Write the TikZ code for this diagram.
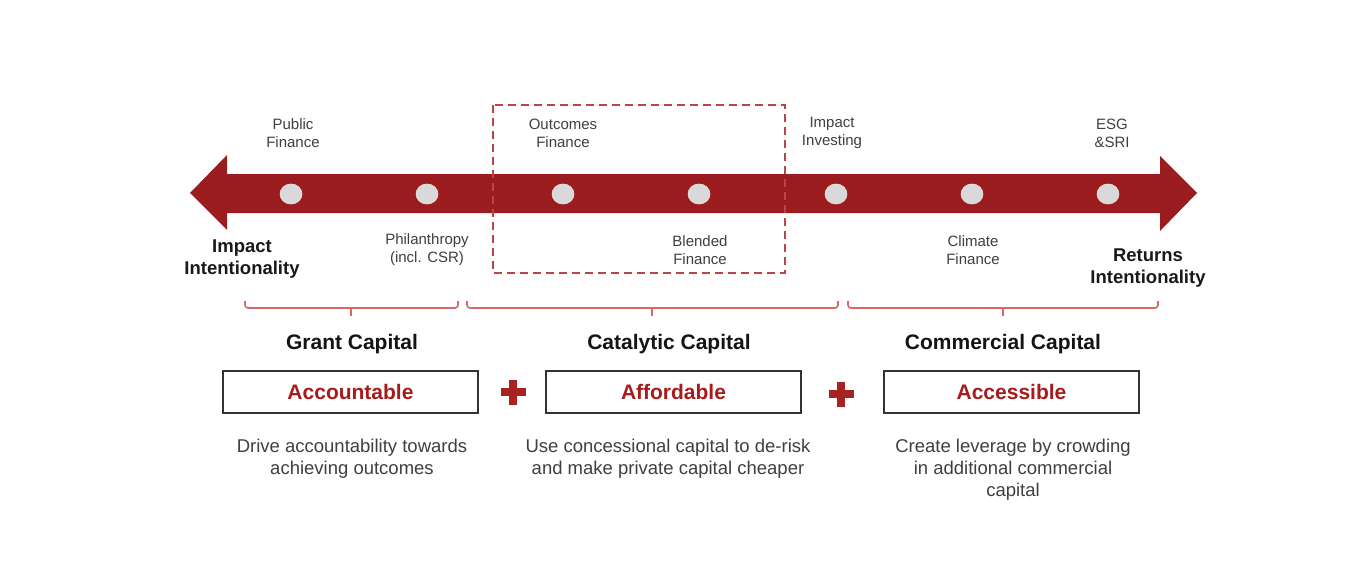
\documentclass[tikz,border=0pt]{standalone}
\usepackage{fontspec}
\setmainfont{Liberation Sans}
\usetikzlibrary{shapes.geometric}
\definecolor{arrowred}{HTML}{9B1C1F}
\definecolor{dashred}{HTML}{BC4446}
\definecolor{bracered}{HTML}{E06666}
\definecolor{boxred}{HTML}{A61C1C}
\definecolor{plusred}{HTML}{A82222}
\definecolor{labelgray}{HTML}{3F3F3F}
\definecolor{dotgray}{HTML}{D9D9D9}
\definecolor{boxgray}{HTML}{333333}
\begin{document}
\begin{tikzpicture}[x=1pt,y=-1pt,
  dot/.style={ellipse,minimum width=22pt,minimum height=20pt,inner sep=0pt,fill=dotgray,draw=white!80!gray,line width=0.6pt},
  smalllabel/.style={align=center,text=labelgray,font=\fontsize{15}{18}\selectfont,inner sep=0pt},
  endlabel/.style={align=center,text=black!90,font=\fontsize{18.5}{22}\selectfont\bfseries,inner sep=0pt},
  title/.style={text=black!92,font=\fontsize{21}{25}\selectfont\bfseries,inner sep=0pt},
  capbox/.style={draw=boxgray,line width=2.5pt,minimum width=255pt,minimum height=42pt,inner sep=0pt,text=boxred,font=\fontsize{21}{25}\selectfont\bfseries},
  desc/.style={align=center,text=labelgray,font=\fontsize{18.5}{22}\selectfont,inner sep=0pt},
  bracestyle/.style={draw=bracered,line width=1.6pt,rounded corners=3pt},
  bracetick/.style={draw=bracered,line width=1.6pt},
  plusstyle/.style={draw=plusred,line width=7.5pt}
]
\useasboundingbox (0,0) rectangle (1349,575);
\fill[white] (0,0) rectangle (1349,575);
% arrow
\fill[arrowred] (190,193) -- (227,155) -- (227,174) -- (1160,174) -- (1160,156)
  -- (1197,193) -- (1160,231) -- (1160,213) -- (227,213) -- (227,230) -- cycle;
% dashed box
\draw[dashred,line width=2.8pt,dash pattern=on 8pt off 5pt] (493,105) rectangle (785,273);
% dots
\node[dot] (d1) at (291,194) {};
\node[dot] (d2) at (427,194) {};
\node[dot] (d3) at (563,194) {};
\node[dot] (d4) at (699,194) {};
\node[dot] (d5) at (836,194) {};
\node[dot] (d6) at (972,194) {};
\node[dot] (d7) at (1108,194) {};
% labels above
\node[smalllabel] (l1) at (293,133) {Public\\Finance};
\node[smalllabel] (l3) at (563,133) {Outcomes\\Finance};
\node[smalllabel] (l5) at (832,133) {Impact\\Investing};
\node[smalllabel] (l7) at (1112,133) {ESG\\\&SRI};
% labels below
\node[smalllabel] (l2) at (427,250) {Philanthropy\\(incl. CSR)};
\node[smalllabel] (l4) at (700,250) {Blended\\Finance};
\node[smalllabel] (l6) at (973,250) {Climate\\Finance};
% end labels
\node[endlabel] (impact) at (242,259) {Impact\\Intentionality};
\node[endlabel] (returns) at (1148,268) {Returns\\Intentionality};
% braces
\draw[bracestyle] (245,301) -- (245,308) -- (458,308) -- (458,301);
\draw[bracetick] (351,308) -- (351,316);
\draw[bracestyle] (467,301) -- (467,308) -- (838,308) -- (838,301);
\draw[bracetick] (652,308) -- (652,316);
\draw[bracestyle] (848,301) -- (848,308) -- (1158,308) -- (1158,301);
\draw[bracetick] (1003,308) -- (1003,316);
% titles
\node[title] (t1) at (352,344) {Grant Capital};
\node[title] (t2) at (669,344) {Catalytic Capital};
\node[title] (t3) at (1003,344) {Commercial Capital};
% boxes
\node[capbox] (b1) at (350.5,392) {Accountable};
\node[capbox] (b2) at (673.5,392) {Affordable};
\node[capbox] (b3) at (1011.5,392) {Accessible};
% plus signs
\coordinate (p1) at (513,392);
\coordinate (p2) at (841,394);
\draw[plusstyle] ([xshift=-12.5pt]p1) -- ([xshift=12.5pt]p1);
\draw[plusstyle] ([yshift=-12.5pt]p1) -- ([yshift=12.5pt]p1);
\draw[plusstyle] ([xshift=-12.5pt]p2) -- ([xshift=12.5pt]p2);
\draw[plusstyle] ([yshift=-12.5pt]p2) -- ([yshift=12.5pt]p2);
% descriptions
\node[desc] (s1) at (352,459) {Drive accountability towards\\achieving outcomes};
\node[desc] (s2) at (668,459) {Use concessional capital to de-risk\\and make private capital cheaper};
\node[desc] (s3) at (1013,470) {Create leverage by crowding\\in additional commercial\\capital};
\end{tikzpicture}
\end{document}
